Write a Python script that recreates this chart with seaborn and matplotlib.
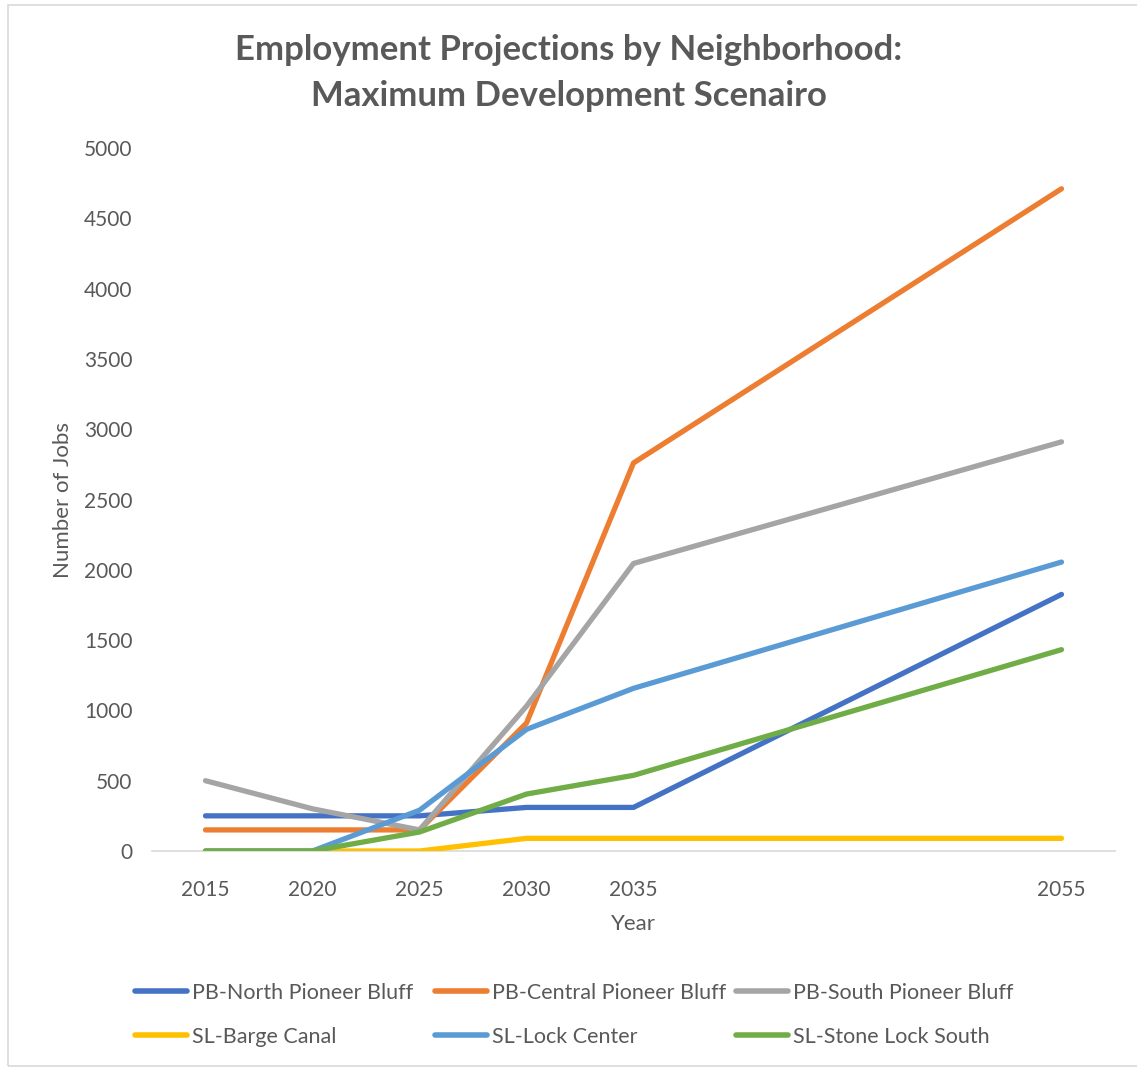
import matplotlib
matplotlib.use("Agg")
import matplotlib.pyplot as plt
import seaborn as sns
import pandas as pd
from matplotlib.patches import Rectangle

years = [2015, 2020, 2025, 2030, 2035, 2055]
series_names = [
    "PB-North Pioneer Bluff",
    "PB-Central Pioneer Bluff",
    "PB-South Pioneer Bluff",
    "SL-Barge Canal",
    "SL-Lock Center",
    "SL-Stone Lock South",
]
pb_north = [250, 250, 250, 310, 310, 1825]
pb_central = [150, 150, 150, 910, 2760, 4710]
pb_south = [500, 300, 150, 1030, 2045, 2910]
sl_barge = [0, 0, 0, 90, 90, 90]
sl_lock = [0, 0, 290, 865, 1157, 2055]
sl_stone = [0, 0, 135, 405, 538, 1432]
colors = ["#4472C4", "#ED7D31", "#A5A5A5", "#FFC000", "#5B9BD5", "#70AD47"]

values = [pb_north, pb_central, pb_south, sl_barge, sl_lock, sl_stone]
rows = []
for name, vals in zip(series_names, values):
    for y, v in zip(years, vals):
        rows.append({"Year": y, "Jobs": v, "Neighborhood": name})
df = pd.DataFrame(rows)

sns.set_theme(style="white")
plt.rcParams["font.family"] = ["Lato", "DejaVu Sans"]
text_color = "#595959"

fig = plt.figure(figsize=(11.37, 10.68), dpi=100)
ax = fig.add_axes([152 / 1137, 1 - 851 / 1068, (1115 - 152) / 1137, (851 - 148) / 1068])

sns.lineplot(data=df, x="Year", y="Jobs", hue="Neighborhood", hue_order=series_names,
             palette=colors, linewidth=3.8, ax=ax, legend=True,
             solid_capstyle="round", solid_joinstyle="round")

ax.set_xlim(2012.5, 2057.5)
ax.set_ylim(0, 5000)
ax.set_xticks(years)
ax.set_xticklabels([str(y) for y in years])
ax.set_yticks(range(0, 5001, 500))
ax.tick_params(axis="both", length=0, labelsize=15, colors=text_color)
ax.tick_params(axis="x", pad=21)
ax.tick_params(axis="y", pad=14)
for side in ["top", "right", "left"]:
    ax.spines[side].set_visible(False)
ax.spines["bottom"].set_color("#D9D9D9")
ax.spines["bottom"].set_linewidth(1.2)
ax.spines["bottom"].set_zorder(0)
ax.set_xlabel("Year", fontsize=16, color=text_color, labelpad=10)
ax.set_ylabel("Number of Jobs", fontsize=16, color=text_color, labelpad=8)

handles, labels = ax.get_legend_handles_labels()
ax.get_legend().remove()
for h in handles:
    h.set_linewidth(4)
    h.set_solid_capstyle("round")

col_x = [135, 435, 736]
for c in range(3):
    hs = [handles[c], handles[c + 3]]
    ls = [labels[c], labels[c + 3]]
    leg = fig.legend(hs, ls, ncol=1, loc="upper left",
                     bbox_to_anchor=(col_x[c] / 1137, 1 - 983 / 1068),
                     frameon=False, fontsize=15.5, handlelength=2.4, handletextpad=0.25,
                     labelspacing=1.1, borderpad=0, borderaxespad=0)
    for t in leg.get_texts():
        t.set_color(text_color)

fig.text(0.5, 1 - 50 / 1068, "Employment Projections by Neighborhood:", ha="center", va="center",
         fontsize=25, fontweight="bold", color=text_color)
fig.text(0.5, 1 - 96 / 1068, "Maximum Development Scenairo", ha="center", va="center",
         fontsize=25, fontweight="bold", color=text_color)

fig.patches.append(Rectangle((8 / 1137, 2 / 1068), 1.2, 1 - 7 / 1068, transform=fig.transFigure,
                             fill=False, edgecolor="#D9D9D9", linewidth=1.2))

fig.savefig("out.png", dpi=100)
